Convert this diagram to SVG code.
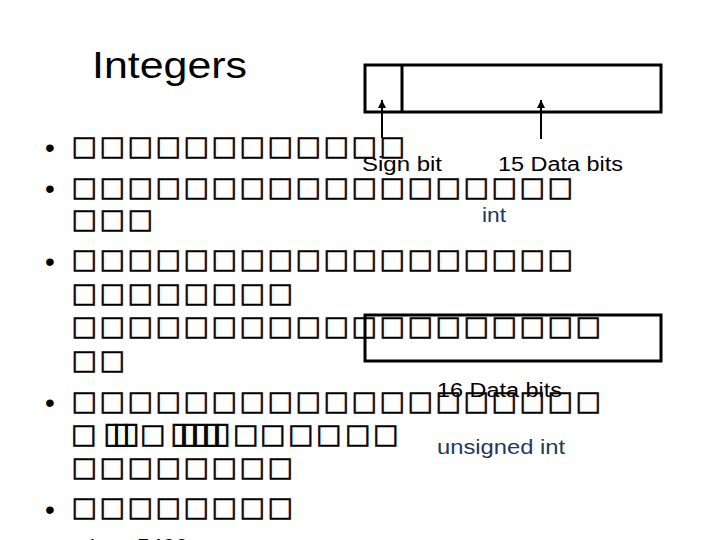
<svg xmlns="http://www.w3.org/2000/svg" width="720" height="540" viewBox="0 0 720 540">
<style>
.b{font-family:"Liberation Sans",Arial,sans-serif;font-size:28px;fill:#000}
.t{font-family:"DejaVu Sans",sans-serif;font-size:27px;fill:#000;stroke:#000;stroke-width:0.6}
.n{font-size:30px}
.lbl{font-family:"Liberation Sans",Arial,sans-serif;font-size:20px;fill:#000}
.blue{fill:#203864}
.box{fill:none;stroke:#000;stroke-width:3}
.arr{stroke:#000;stroke-width:2;fill:none}
</style>
<defs>
<marker id="ah" viewBox="0 0 8 8" refX="8" refY="4" markerWidth="4" markerHeight="4" orient="auto" markerUnits="strokeWidth">
<path d="M0,0 L8,4 L0,8 Z" fill="#000"/>
</marker>
</defs>
<rect width="720" height="540" fill="#fff"/>
<g id="title">
<text x="92" y="78" font-family="Liberation Sans, Arial, sans-serif" font-size="36" textLength="155" lengthAdjust="spacingAndGlyphs">Integers</text>
</g>
<g id="bullets">
<text class="b" x="45" y="157">•</text>
<text class="b" x="45" y="198">•</text>
<text class="b" x="45" y="271">•</text>
<text class="b" x="45" y="412">•</text>
<text class="b" x="45" y="519">•</text>
</g>
<g id="body">
<text class="t" x="71.5 99.5 127.5 155.5 183.5 211.5 239.5 267.5 295.5 323.5 351.5 379.5" y="155">□□□□□□□□□□□□</text>
<text class="t" x="71.5 99.5 127.5 155.5 183.5 211.5 239.5 267.5 295.5 323.5 351.5 379.5 407.5 435.5 463.5 491.5 519.5 547.5" y="196">□□□□□□□□□□□□□□□□□□</text>
<text class="t" x="71.5 99.5 127.5" y="228">□□□</text>
<text class="t" x="71.5 99.5 127.5 155.5 183.5 211.5 239.5 267.5 295.5 323.5 351.5 379.5 407.5 435.5 463.5 491.5 519.5 547.5" y="267.5">□□□□□□□□□□□□□□□□□□</text>
<text class="t" x="71.5 99.5 127.5 155.5 183.5 211.5 239.5 267.5" y="301.5">□□□□□□□□</text>
<text class="t" x="71.5 99.5 127.5 155.5 183.5 211.5 239.5 267.5 295.5 323.5 351.5 379.5 407.5 435.5 463.5 491.5 519.5 547.5 575.5" y="335">□□□□□□□□□□□□□□□□□□□</text>
<text class="t" x="71.5 99.5" y="368.5">□□</text>
<text class="t" x="71.5 99.5 127.5 155.5 183.5 211.5 239.5 267.5 295.5 323.5 351.5 379.5 407.5 435.5 463.5 491.5 519.5 547.5 575.5" y="409.5">□□□□□□□□□□□□□□□□□□□</text>
<text class="t" x="71 103 113 123 140 170 181 192 203 214 233 260 288 316 345 373" y="443">□<tspan class="n">▯▯▯</tspan>□<tspan class="n">▯▯▯▯▯</tspan>□□□□□□</text>
<text class="t" x="71.5 99.5 127.5 155.5 183.5 211.5 239.5 267.5" y="476">□□□□□□□□</text>
<text class="t" x="71.5 99.5 127.5 155.5 183.5 211.5 239.5 267.5" y="516">□□□□□□□□</text>
<text x="86" y="556" font-family="Liberation Sans, Arial, sans-serif" font-size="24">(</text>
<text x="137" y="556" font-family="Liberation Sans, Arial, sans-serif" font-size="24" textLength="51" lengthAdjust="spacingAndGlyphs">5400</text>
</g>
<g id="int-register">
<rect class="box" x="365" y="65" width="296" height="47"/>
<line class="box" x1="402" y1="65" x2="402" y2="112"/>
</g>
<g id="uint-register">
<rect class="box" x="365" y="315" width="296" height="46"/>
</g>
<g id="labels">
<text class="lbl" x="362" y="171" textLength="80" lengthAdjust="spacingAndGlyphs">Sign bit</text>
<text class="lbl" x="498" y="171" textLength="125" lengthAdjust="spacingAndGlyphs">15 Data bits</text>
<text class="lbl blue" x="482" y="222" textLength="24" lengthAdjust="spacingAndGlyphs">int</text>
<text class="lbl" x="437" y="397" textLength="125" lengthAdjust="spacingAndGlyphs">16 Data bits</text>
<text class="lbl blue" x="437" y="454" textLength="128" lengthAdjust="spacingAndGlyphs">unsigned int</text>
</g>
<g id="connectors">
<line class="arr" x1="382" y1="138" x2="382" y2="100" marker-end="url(#ah)"/>
<line class="arr" x1="541" y1="139" x2="541" y2="100" marker-end="url(#ah)"/>
</g>
</svg>
